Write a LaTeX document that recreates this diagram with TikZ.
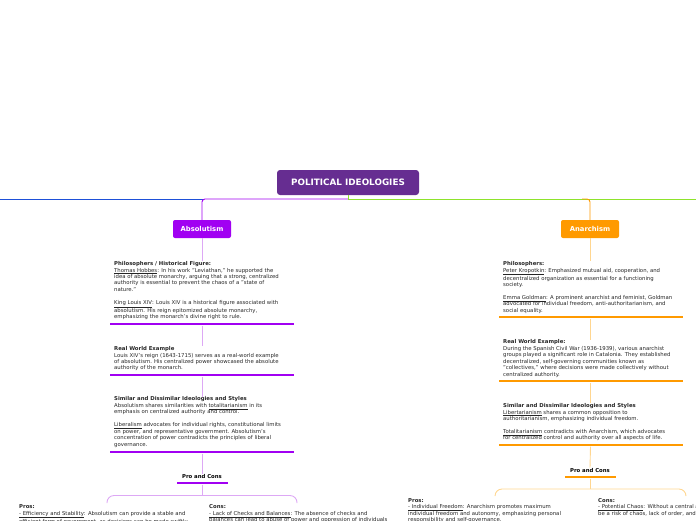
\documentclass[tikz,border=0pt]{standalone}
\usepackage{fontspec}
\setmainfont{DejaVu Sans}
\definecolor{rootpurple}{HTML}{662D91}
\definecolor{abspurple}{HTML}{A100F2}
\definecolor{abslight}{HTML}{DDA8F5}
\definecolor{anaorange}{HTML}{FF9A00}
\definecolor{analight}{HTML}{FFD690}
\definecolor{lineblue}{HTML}{1E50D8}
\definecolor{linegreen}{HTML}{8EE32C}
\definecolor{bodytext}{HTML}{262626}
\begin{document}
\begin{tikzpicture}[x=1pt,y=-1pt,
    rootbox/.style={fill=rootpurple,rounded corners=3pt,text=white,
      font=\bfseries\fontsize{8.8}{9}\selectfont,minimum width=142,minimum height=25,inner sep=0},
    branchbox/.style={rounded corners=2pt,text=white,
      font=\bfseries\fontsize{6.8}{7}\selectfont,minimum width=58,minimum height=18,inner sep=0},
    topic/.style={anchor=north west,align=left,inner sep=0,text=bodytext,
      font=\fontsize{5.35}{6.45}\selectfont},
    bar/.style={minimum width=184,minimum height=2.6,inner sep=0},
    smallbar/.style={minimum width=51,minimum height=2.6,inner sep=0},
    procon/.style={inner sep=0,text=black,font=\bfseries\fontsize{5.35}{6}\selectfont}]
  \useasboundingbox (0,0) rectangle (696,520);
  \clip (0,0) rectangle (696,520);

  % root and main line
  \node[rootbox] (root) at (348,182.5) {POLITICAL IDEOLOGIES};
  \coordinate (hub) at (348,199);
  \coordinate (leftend) at (0,199);
  \coordinate (rightend) at (696,199);
  \draw[lineblue,line width=0.9] (leftend) -- (203,199);
  \draw[linegreen,line width=0.9] (hub) -- (rightend);
  \draw[linegreen,line width=0.8] (root.south) -- (hub);

  % Absolutism
  \node[branchbox,fill=abspurple] (absbox) at (202,229) {Absolutism};
  \draw[abspurple,line width=0.9,rounded corners=3] (hub) -- (absbox |- hub) -- (absbox.north);

  \node[topic] (absphil) at (114,261.3) {\textbf{Philosophers / Historical Figure:}\\
    \underline{Thomas Hobbes}: In his work "Leviathan," he supported the\\
    idea of absolute monarchy, arguing that a strong, centralized\\
    authority is essential to prevent the chaos of a "state of\\
    nature."\\[6.45pt]
    \underline{King Louis XIV}: Louis XIV is a historical figure associated with\\
    absolutism. His reign epitomized absolute monarchy,\\
    emphasizing the monarch's divine right to rule.};
  \node[bar,fill=abspurple] (absbar1) at (202,324) {};

  \node[topic] (absreal) at (114,346.3) {\textbf{Real World Example}\\
    Louis XIV's reign (1643-1715) serves as a real-world example\\
    of absolutism. His centralized power showcased the absolute\\
    authority of the monarch.};
  \node[bar,fill=abspurple] (absbar2) at (202,375) {};

  \node[topic] (abssim) at (114,396.6) {\textbf{Similar and Dissimilar Ideologies and Styles}\\
    Absolutism shares similarities with \underline{totalitarianism} in its\\
    emphasis on centralized authority and control.\\[6.45pt]
    \underline{Liberalism} advocates for individual rights, constitutional limits\\
    on power, and representative government. Absolutism's\\
    concentration of power contradicts the principles of liberal\\
    governance.};
  \node[bar,fill=abspurple] (absbar3) at (202,452) {};

  \node[procon] (abspc) at (202,476) {Pro and Cons};
  \node[smallbar,fill=abspurple] (absbar4) at (202,483) {};
  \coordinate (absfork) at (202,495.5);

  \draw[abslight,line width=0.9] (absbox.south) -- (absbox |- absphil.north);
  \draw[abslight,line width=0.9] (absbar1.south) -- (absbar1 |- absreal.north);
  \draw[abslight,line width=0.9] (absbar2.south) -- (absbar2 |- abssim.north);
  \draw[abslight,line width=0.9] (absbar3.south) -- (abspc.north);
  \draw[abslight,line width=0.9] (absbar4.south) -- (absfork);
  \draw[abslight,line width=0.9,rounded corners=7] (107,503) -- (107,495.5) -- (297,495.5) -- (297,503);

  \node[topic] (abspros) at (19,504.6) {\textbf{Pros:}\\
    \underline{- Efficiency and Stability}: Absolutism can provide a stable and\\
    efficient form of government, as decisions can be made swiftly};
  \node[topic] (abscons) at (209,504.6) {\textbf{Cons:}\\
    \underline{- Lack of Checks and Balances}: The absence of checks and\\
    balances can lead to abuse of power and oppression of individuals};

  % Anarchism
  \node[branchbox,fill=anaorange] (anabox) at (590,229) {Anarchism};
  \draw[anaorange,line width=0.9,rounded corners=3] (582,199) -- (anabox |- hub) -- (anabox.north);

  \node[topic] (anaphil) at (503,261.3) {\textbf{Philosophers:}\\
    \underline{Peter Kropotkin}: Emphasized mutual aid, cooperation, and\\
    decentralized organization as essential for a functioning\\
    society.\\[6.45pt]
    \underline{Emma Goldman}: A prominent anarchist and feminist, Goldman\\
    advocated for individual freedom, anti-authoritarianism, and\\
    social equality.};
  \node[bar,fill=anaorange] (anabar1) at (590.5,317) {};

  \node[topic] (anareal) at (503,339.6) {\textbf{Real World Example:}\\
    During the Spanish Civil War (1936-1939), various anarchist\\
    groups played a significant role in Catalonia. They established\\
    decentralized, self-governing communities known as\\
    "collectives," where decisions were made collectively without\\
    centralized authority.};
  \node[bar,fill=anaorange] (anabar2) at (590.5,381) {};

  \node[topic] (anasim) at (503,403.3) {\textbf{Similar and Dissimilar Ideologies and Styles}\\
    \underline{Libertarianism} shares a common opposition to\\
    authoritarianism, emphasizing individual freedom.\\[6.45pt]
    \underline{Totalitarianism} contradicts with Anarchism, which advocates\\
    for centralized control and authority over all aspects of life.};
  \node[bar,fill=anaorange] (anabar3) at (590.5,445) {};

  \node[procon] (anapc) at (590,470) {Pro and Cons};
  \node[smallbar,fill=anaorange] (anabar4) at (590,477) {};
  \coordinate (anafork) at (590,489);

  \draw[analight,line width=0.9] (anabox.south) -- (anabox |- anaphil.north);
  \draw[analight,line width=0.9] (anabar1.south) -- (anabar1 |- anareal.north);
  \draw[analight,line width=0.9] (anabar2.south) -- (anabar2 |- anasim.north);
  \draw[analight,line width=0.9] (anabar3.south) -- (anapc.north);
  \draw[analight,line width=0.9] (anabar4.south) -- (anafork);
  \draw[analight,line width=0.9,rounded corners=7] (495,496) -- (495,489) -- (686,489) -- (686,496);

  \node[topic] (anapros) at (408,498.3) {\textbf{Pros:}\\
    \underline{- Individual Freedom}: Anarchism promotes maximum\\
    individual freedom and autonomy, emphasizing personal\\
    responsibility and self-governance.};
  \node[topic] (anacons) at (598,498.3) {\textbf{Cons:}\\
    \underline{- Potential Chaos}: Without a central authority, there may\\
    be a risk of chaos, lack of order, and conflict.};
\end{tikzpicture}
\end{document}
